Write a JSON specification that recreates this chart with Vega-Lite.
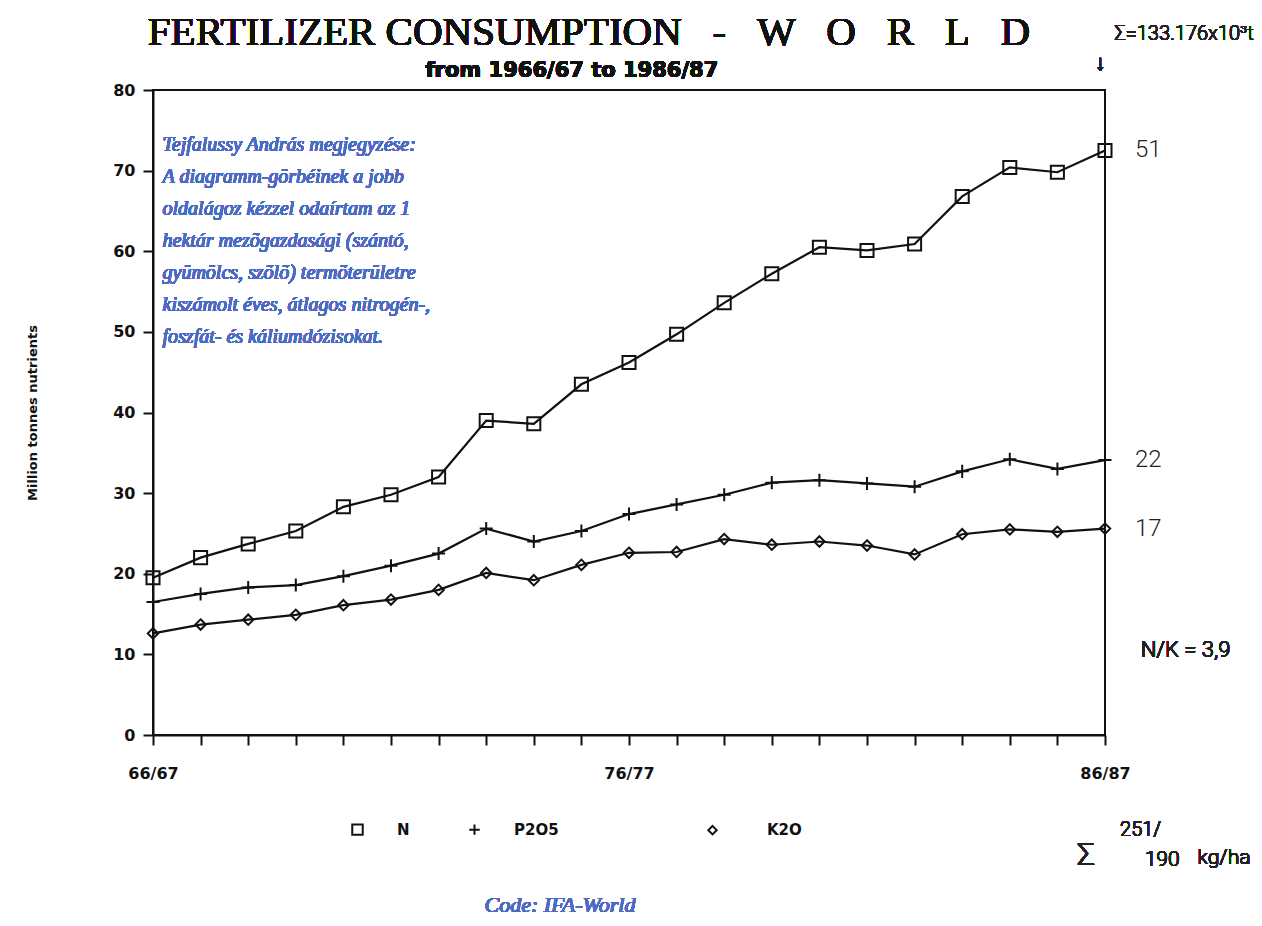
{
  "$schema": "https://vega.github.io/schema/vega-lite/v6.json",
  "width": 952,
  "height": 645,
  "autosize": {"type": "none"},
  "padding": {"left": 153, "top": 90, "right": 157, "bottom": 191},
  "background": "white",
  "config": {
    "view": {"stroke": "#111", "strokeWidth": 2},
    "axis": {
      "domainColor": "#111",
      "domainWidth": 2,
      "tickColor": "#111",
      "tickWidth": 2,
      "tickSize": 10,
      "grid": false,
      "labelFont": "DejaVu Sans",
      "labelFontWeight": "bold",
      "labelFontSize": 16,
      "labelColor": "#111",
      "titleFont": "DejaVu Sans",
      "titleFontWeight": "bold",
      "titleFontSize": 13,
      "titleColor": "#111"
    }
  },
  "data": {
    "values": [
      {"year": 1966, "series": "N", "value": 19.5},
      {"year": 1967, "series": "N", "value": 22.0},
      {"year": 1968, "series": "N", "value": 23.7},
      {"year": 1969, "series": "N", "value": 25.3},
      {"year": 1970, "series": "N", "value": 28.3},
      {"year": 1971, "series": "N", "value": 29.8},
      {"year": 1972, "series": "N", "value": 32.0},
      {"year": 1973, "series": "N", "value": 39.0},
      {"year": 1974, "series": "N", "value": 38.6},
      {"year": 1975, "series": "N", "value": 43.5},
      {"year": 1976, "series": "N", "value": 46.2},
      {"year": 1977, "series": "N", "value": 49.7},
      {"year": 1978, "series": "N", "value": 53.6},
      {"year": 1979, "series": "N", "value": 57.2},
      {"year": 1980, "series": "N", "value": 60.5},
      {"year": 1981, "series": "N", "value": 60.1},
      {"year": 1982, "series": "N", "value": 60.9},
      {"year": 1983, "series": "N", "value": 66.8},
      {"year": 1984, "series": "N", "value": 70.4},
      {"year": 1985, "series": "N", "value": 69.8},
      {"year": 1986, "series": "N", "value": 72.5, "note": "51"},
      {"year": 1966, "series": "P2O5", "value": 16.5},
      {"year": 1967, "series": "P2O5", "value": 17.5},
      {"year": 1968, "series": "P2O5", "value": 18.3},
      {"year": 1969, "series": "P2O5", "value": 18.6},
      {"year": 1970, "series": "P2O5", "value": 19.7},
      {"year": 1971, "series": "P2O5", "value": 21.0},
      {"year": 1972, "series": "P2O5", "value": 22.5},
      {"year": 1973, "series": "P2O5", "value": 25.6},
      {"year": 1974, "series": "P2O5", "value": 24.0},
      {"year": 1975, "series": "P2O5", "value": 25.3},
      {"year": 1976, "series": "P2O5", "value": 27.4},
      {"year": 1977, "series": "P2O5", "value": 28.6},
      {"year": 1978, "series": "P2O5", "value": 29.8},
      {"year": 1979, "series": "P2O5", "value": 31.3},
      {"year": 1980, "series": "P2O5", "value": 31.6},
      {"year": 1981, "series": "P2O5", "value": 31.2},
      {"year": 1982, "series": "P2O5", "value": 30.8},
      {"year": 1983, "series": "P2O5", "value": 32.7},
      {"year": 1984, "series": "P2O5", "value": 34.2},
      {"year": 1985, "series": "P2O5", "value": 33.0},
      {"year": 1986, "series": "P2O5", "value": 34.1, "note": "22"},
      {"year": 1966, "series": "K2O", "value": 12.6},
      {"year": 1967, "series": "K2O", "value": 13.7},
      {"year": 1968, "series": "K2O", "value": 14.3},
      {"year": 1969, "series": "K2O", "value": 14.9},
      {"year": 1970, "series": "K2O", "value": 16.1},
      {"year": 1971, "series": "K2O", "value": 16.8},
      {"year": 1972, "series": "K2O", "value": 18.0},
      {"year": 1973, "series": "K2O", "value": 20.1},
      {"year": 1974, "series": "K2O", "value": 19.2},
      {"year": 1975, "series": "K2O", "value": 21.1},
      {"year": 1976, "series": "K2O", "value": 22.6},
      {"year": 1977, "series": "K2O", "value": 22.7},
      {"year": 1978, "series": "K2O", "value": 24.3},
      {"year": 1979, "series": "K2O", "value": 23.6},
      {"year": 1980, "series": "K2O", "value": 24.0},
      {"year": 1981, "series": "K2O", "value": 23.5},
      {"year": 1982, "series": "K2O", "value": 22.4},
      {"year": 1983, "series": "K2O", "value": 24.9},
      {"year": 1984, "series": "K2O", "value": 25.5},
      {"year": 1985, "series": "K2O", "value": 25.2},
      {"year": 1986, "series": "K2O", "value": 25.6, "note": "17"}
    ]
  },
  "encoding": {
    "x": {
      "field": "year",
      "type": "quantitative",
      "scale": {"domain": [1966, 1986], "nice": false, "zero": false},
      "axis": {
        "title": null,
        "values": [1966,1967,1968,1969,1970,1971,1972,1973,1974,1975,1976,1977,1978,1979,1980,1981,1982,1983,1984,1985,1986],
        "labelExpr": "datum.value == 1966 ? '66/67' : datum.value == 1976 ? '76/77' : datum.value == 1986 ? '86/87' : ''",
        "labelPadding": 20,
        "labelFontSize": 16,
        "labelFlush": false,
        "labelOverlap": false
      }
    },
    "y": {
      "field": "value",
      "type": "quantitative",
      "scale": {"domain": [0, 80], "nice": false},
      "axis": {
        "title": "Million tonnes nutrients",
        "values": [0,10,20,30,40,50,60,70,80],
        "labelPadding": 8,
        "labelFlush": false,
        "titlePadding": 73
      }
    }
  },
  "layer": [
    {
      "mark": {"type": "line", "color": "#111", "strokeWidth": 2.2},
      "encoding": {"detail": {"field": "series"}}
    },
    {
      "mark": {"type": "point", "filled": false, "stroke": "#111", "strokeWidth": 2, "opacity": 1, "size": 170},
      "encoding": {
        "shape": {
          "field": "series",
          "type": "nominal",
          "scale": {
            "domain": ["N", "P2O5", "K2O"],
            "range": ["square", "M-1,0L1,0M0,-1L0,1", "M0,-0.8L0.8,0L0,0.8L-0.8,0Z"]
          },
          "legend": {
            "title": null,
            "orient": "none",
            "direction": "horizontal",
            "legendX": 197,
            "legendY": 732,
            "columns": 3,
            "columnPadding": 55,
            "labelOffset": 32,
            "labelExpr": "datum.label == 'P2O5' ? 'P2O5\u2003\u2003\u2003\u2003\u2003\u2003\u200b' : datum.label == 'K2O' ? '\u200b\u2003K2O' : datum.label",
            "labelFont": "DejaVu Sans",
            "labelFontWeight": "bold",
            "labelFontSize": 15,
            "labelColor": "#111",
            "symbolSize": 110,
            "symbolStrokeColor": "#111",
            "symbolFillColor": "transparent",
            "symbolStrokeWidth": 2
          }
        }
      }
    },
    {
      "transform": [{"filter": "datum.note != null"}],
      "mark": {"type": "text", "align": "left", "baseline": "middle", "dx": 30, "font": "Roboto", "fontWeight": 300, "fontSize": 24, "color": "#222"},
      "encoding": {"text": {"field": "note"}}
    },
    {
      "mark": {"type": "text", "align": "center", "baseline": "alphabetic", "font": "Liberation Serif", "fontSize": 41, "fontWeight": "normal", "color": "#111",
        "text": "FERTILIZER CONSUMPTION\u00a0\u00a0\u00a0-\u00a0\u00a0\u00a0W\u00a0\u00a0\u00a0O\u00a0\u00a0\u00a0R\u00a0\u00a0\u00a0L\u00a0\u00a0\u00a0D"},
      "encoding": {"x": {"datum": 1975.16}, "y": {"datum": 85.6}}
    },
    {
      "mark": {"type": "text", "align": "center", "baseline": "alphabetic", "font": "DejaVu Sans", "fontSize": 21, "fontWeight": "bold", "color": "#111", "text": "from 1966/67 to 1986/87"},
      "encoding": {"x": {"datum": 1974.8}, "y": {"datum": 81.6}}
    },
    {
      "mark": {
        "type": "text",
        "align": "left",
        "baseline": "middle",
        "font": "Liberation Serif",
        "fontStyle": "italic",
        "fontWeight": "normal",
        "fontSize": 20,
        "lineHeight": 32,
        "color": "#4a6cc4",
        "lineBreak": "\n",
        "text": "Tejfalussy András megjegyzése:\nA diagramm-görbéinek a jobb\noldalágoz kézzel odaírtam az 1\nhektár mezõgazdasági (szántó,\ngyümölcs, szõlõ) termõterületre\nkiszámolt éves, átlagos nitrogén-,\nfoszfát- és káliumdózisokat."
      },
      "encoding": {"x": {"datum": 1966.2}, "y": {"datum": 73.2}}
    },
    {
      "mark": {"type": "text", "align": "center", "baseline": "middle", "font": "Liberation Serif", "fontStyle": "italic", "fontWeight": "normal", "fontSize": 22, "color": "#4a6cc4", "text": "Code: IFA-World"},
      "encoding": {"x": {"datum": 1974.55}, "y": {"datum": -21.1}}
    },
    {
      "mark": {"type": "text", "align": "left", "baseline": "middle", "font": "Roboto", "fontWeight": 300, "fontSize": 20, "color": "#222", "text": "Σ=133.176x10³t"},
      "encoding": {"x": {"datum": 1986.2}, "y": {"datum": 87.0}}
    },
    {
      "mark": {"type": "text", "align": "center", "baseline": "middle", "font": "Roboto", "fontWeight": 300, "fontSize": 22, "color": "#222", "text": "↓"},
      "encoding": {"x": {"datum": 1985.9}, "y": {"datum": 83.4}}
    },
    {
      "mark": {"type": "text", "align": "left", "baseline": "middle", "font": "Roboto", "fontWeight": 300, "fontSize": 22, "color": "#222", "text": "N/K = 3,9"},
      "encoding": {"x": {"datum": 1986.75}, "y": {"datum": 10.5}}
    },
    {
      "mark": {"type": "text", "align": "center", "baseline": "middle", "font": "Roboto", "fontWeight": 300, "fontSize": 32, "color": "#222", "text": "Σ"},
      "encoding": {"x": {"datum": 1985.6}, "y": {"datum": -14.9}}
    },
    {
      "mark": {"type": "text", "align": "center", "baseline": "middle", "font": "Roboto", "fontWeight": 300, "fontSize": 20, "color": "#222", "text": "251/"},
      "encoding": {"x": {"datum": 1986.75}, "y": {"datum": -11.8}}
    },
    {
      "mark": {"type": "text", "align": "center", "baseline": "middle", "font": "Roboto", "fontWeight": 300, "fontSize": 21, "color": "#222", "text": "190"},
      "encoding": {"x": {"datum": 1987.2}, "y": {"datum": -15.5}}
    },
    {
      "mark": {"type": "text", "align": "center", "baseline": "middle", "font": "Roboto", "fontWeight": 300, "fontSize": 21, "color": "#222", "text": "kg/ha"},
      "encoding": {"x": {"datum": 1988.5}, "y": {"datum": -15.3}}
    }
  ]
}
